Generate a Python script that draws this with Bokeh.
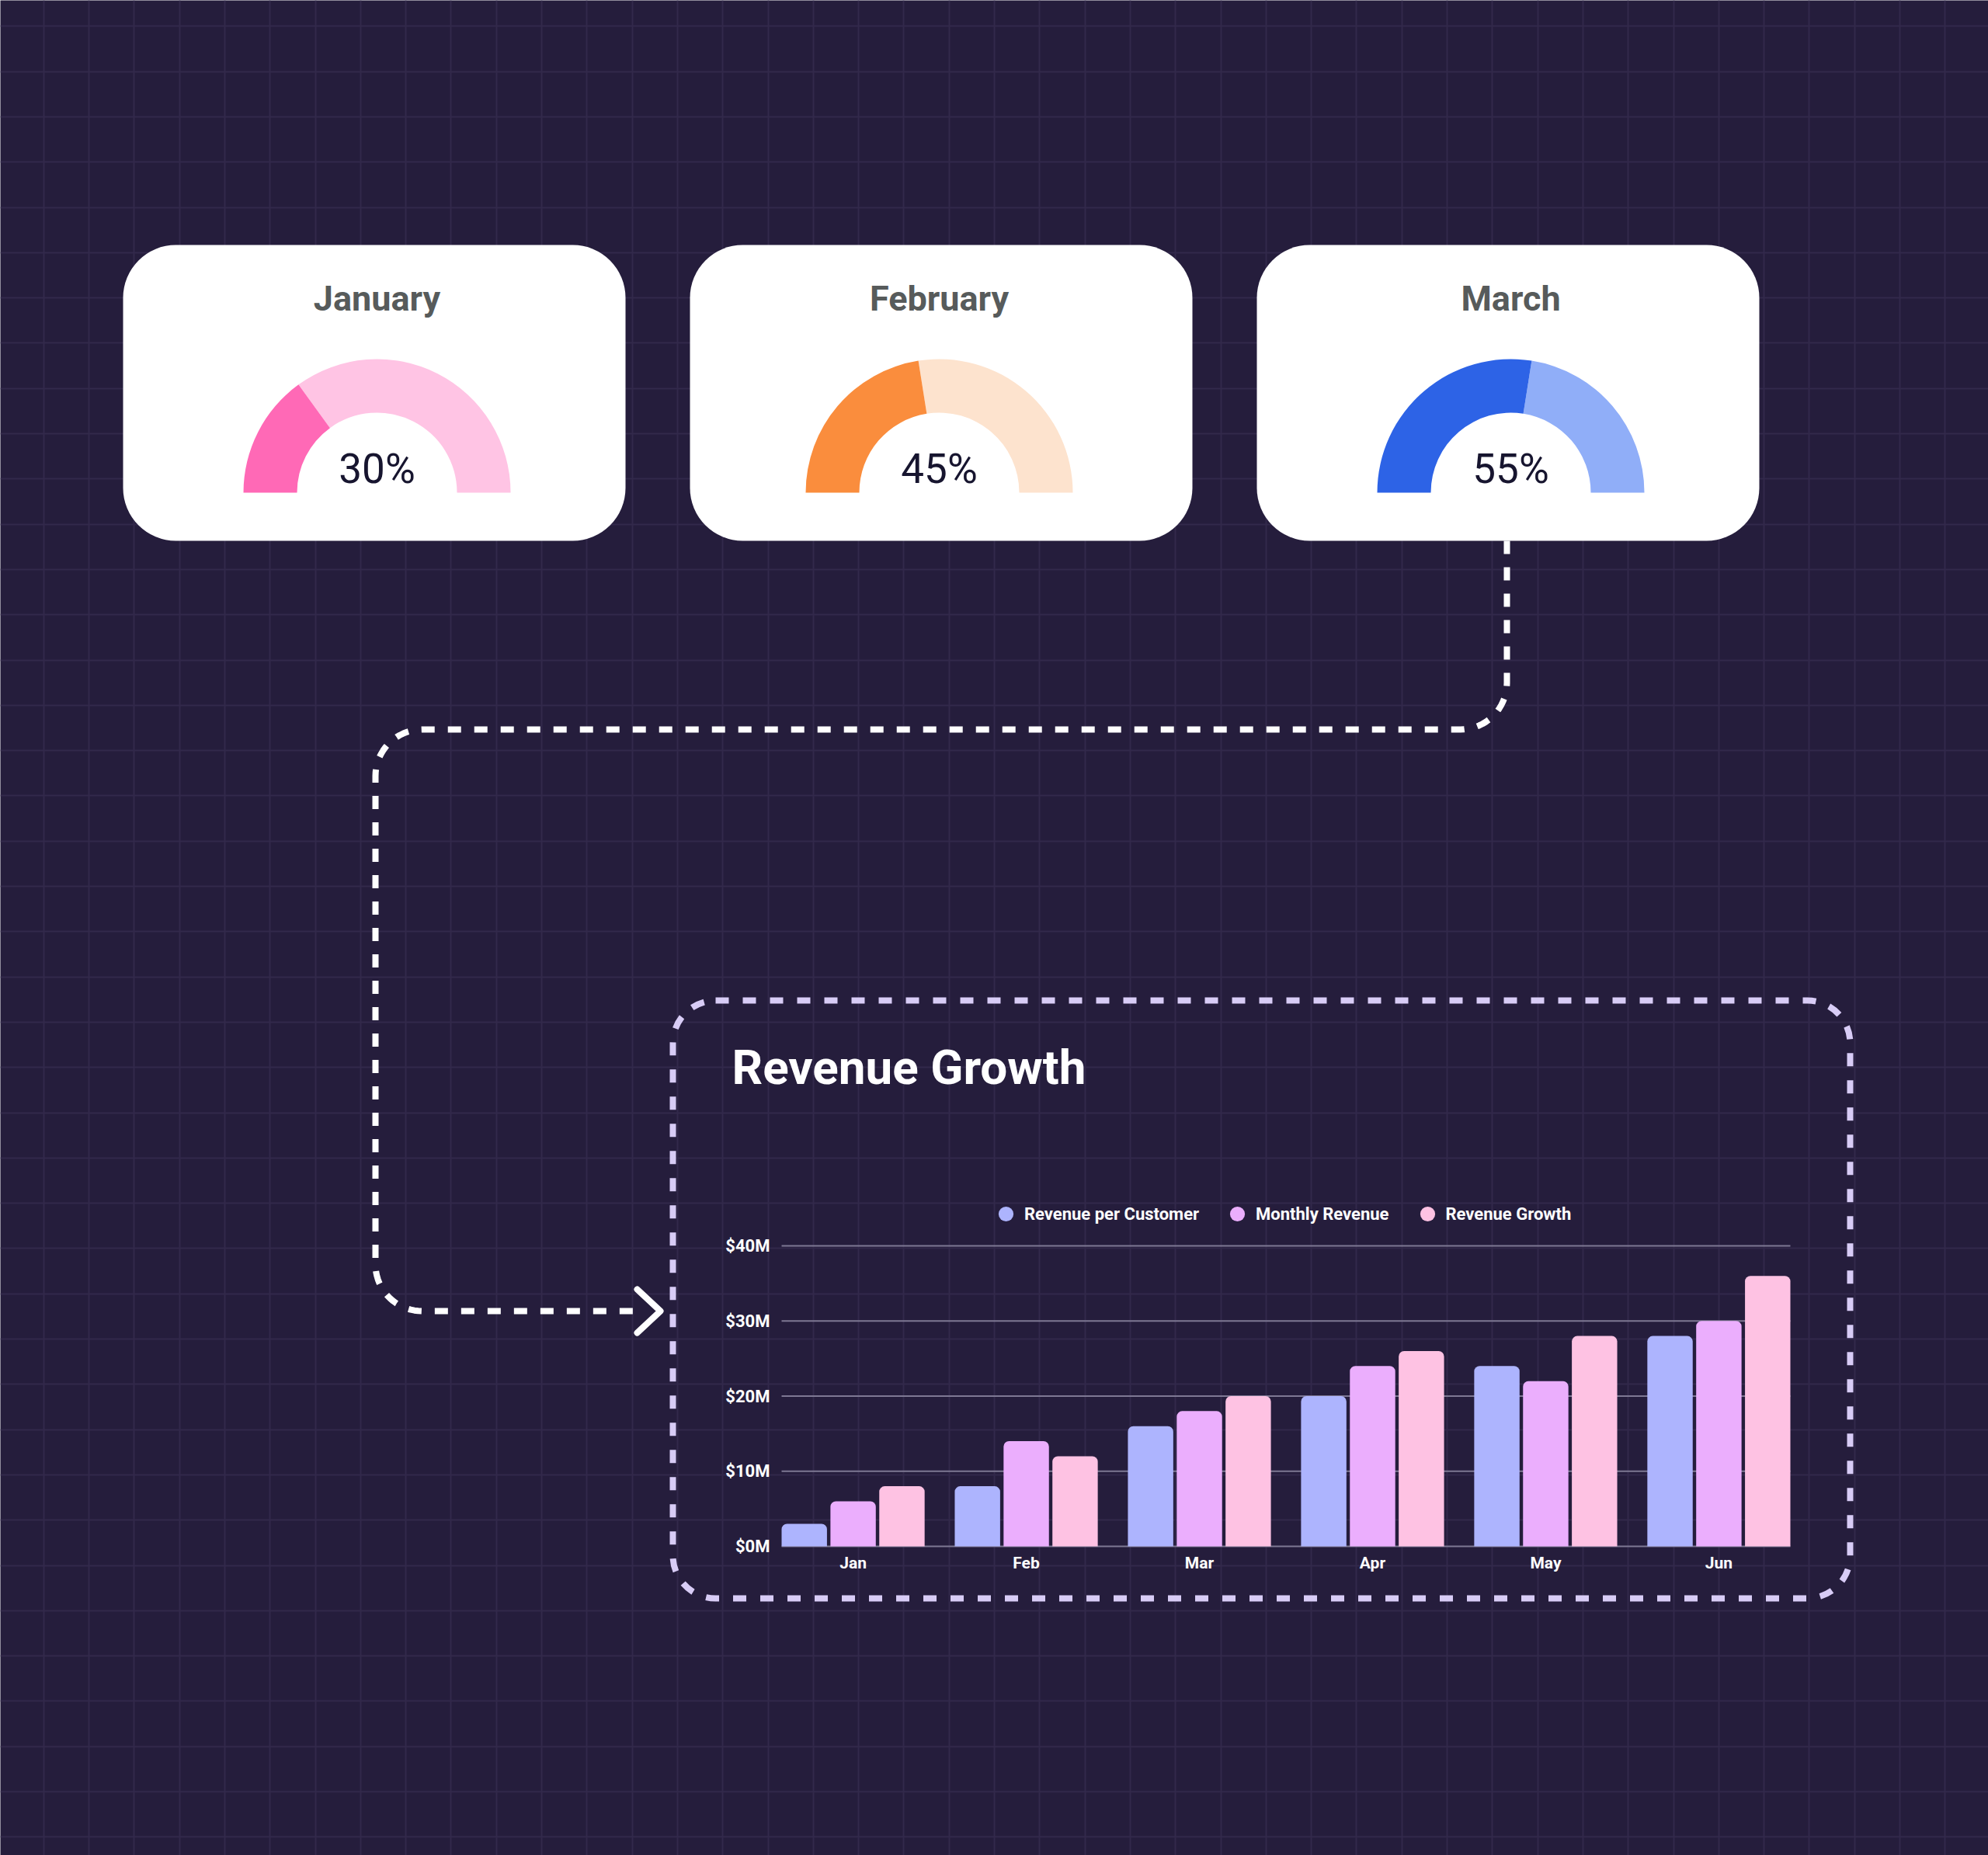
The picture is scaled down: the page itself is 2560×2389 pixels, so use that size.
import math
import numpy as np
from bokeh.plotting import figure
from bokeh.models import (Range1d, LinearAxis, FixedTicker, PrintfTickFormatter,
                          Legend, LegendItem, Grid)
from bokeh.core.properties import value
from bokeh.embed import file_html
from bokeh.resources import INLINE

# ---------------- data ----------------
gauge_months = ["January", "February", "March"]
gauge_pct = [30, 45, 55]
gauge_dark = ["#FF69B6", "#FA8D3D", "#2D63E6"]
gauge_light = ["#FFC4E4", "#FDE3CE", "#90AEF8"]

months = ["Jan", "Feb", "Mar", "Apr", "May", "Jun"]
rev_per_customer = [3, 8, 16, 20, 24, 28]
monthly_revenue = [6, 14, 18, 24, 22, 30]
revenue_growth = [8, 12, 20, 26, 28, 36]
y_ticks = [0, 10, 20, 30, 40]
series_names = ["Revenue per Customer", "Monthly Revenue", "Revenue Growth"]
series_colors = ["#ADB4FE", "#EBAEFD", "#FEC2E3"]
series_values = [rev_per_customer, monthly_revenue, revenue_growth]

# ---------------- layout ----------------
W, H, M = 2560, 2389, 0
BG = "#251D3C"
FONT = value("Roboto")

p = figure(width=W, height=H, x_range=Range1d(M, M + W), y_range=Range1d(-(M + H), -M),
           x_axis_type=None, y_axis_type=None, toolbar_location=None,
           output_backend="svg", min_border=0, background_fill_color=BG,
           border_fill_color=BG, outline_line_color=None)

# background grid
vx = list(np.arange(55.7, M + W, 58.3))
hy = list(-np.arange(33.3, M + H, 58.3))
p.add_layout(Grid(dimension=0, ticker=FixedTicker(ticks=vx), grid_line_color="#32294B", grid_line_width=2))
p.add_layout(Grid(dimension=1, ticker=FixedTicker(ticks=hy), grid_line_color="#32294B", grid_line_width=2))

# cards
card_left = [158, 888, 1618]
card_w = 647
gauge_cx = [485, 1209, 1945]
p.quad(left=card_left, right=[l + card_w for l in card_left], top=-315, bottom=-696,
       fill_color="#FFFFFF", line_color=None, border_radius=68)
p.text(x=gauge_cx, y=-384, text=gauge_months, text_font=FONT, text_font_style="bold",
       text_font_size="45px", text_color="#575B5B", text_align="center",
       text_baseline="middle")

split = [math.pi * (1 - v / 100) for v in gauge_pct]
p.annular_wedge(x=gauge_cx, y=-634, inner_radius=103, outer_radius=172,
                start_angle=0, end_angle=split, fill_color=gauge_light, line_color=None)
p.annular_wedge(x=gauge_cx, y=-634, inner_radius=103, outer_radius=172,
                start_angle=split, end_angle=math.pi, fill_color=gauge_dark, line_color=None)
p.text(x=gauge_cx, y=-603.5, text=[f"{v}%" for v in gauge_pct], text_font=FONT,
       text_font_size="53px", text_color="#17152F", text_align="center",
       text_baseline="middle")

# connector
def arc(cx, cy, r, a0, a1, n=20):
    t = np.linspace(math.radians(a0), math.radians(a1), n)
    return list(cx + r * np.cos(t)), list(cy + r * np.sin(t))

R = 60
cxs, cys = [1940], [696]
for (ax, ay, a0, a1) in [(1880, 879, 0, 90), (543, 999, 270, 180), (543, 1628, 180, 90)]:
    xs_, ys_ = arc(ax, ay, R, a0, a1)
    cxs += xs_
    cys += ys_
cxs.append(823)
cys.append(1688)
p.line(cxs, [-y for y in cys], line_color="white", line_width=8, line_dash="17 17")
p.line([820, 850, 820], [-1660, -1688, -1716], line_color="white", line_width=8,
       line_cap="round", line_join="round")

# chart box
p.quad(left=866, right=2382, top=-1288, bottom=-2058, fill_color=None,
       line_color="#D8CCF6", line_width=8, line_dash="17 18", border_radius=55)
p.text(x=[942], y=[-1374], text=["Revenue Growth"], text_font=FONT, text_font_style="bold",
       text_font_size="62px", text_color="white", text_baseline="middle")

# ---------------- bar chart (extra ranges) ----------------
offsets = [-0.282, 0.0, 0.282]
bw = 0.262
x_lo, x_hi = offsets[0] - bw / 2, len(months) - 1 + offsets[-1] + bw / 2
PX_L, PX_R = 1006, 2305
ux = (PX_R - PX_L) / (x_hi - x_lo)
Y0, uy = 1991, 9.675
p.extra_x_ranges = {"bx": Range1d(x_lo + (M - PX_L) / ux, x_lo + (M + W - PX_L) / ux)}
p.extra_y_ranges = {"by": Range1d((Y0 - (M + H)) / uy, (Y0 - M) / uy)}

p.segment(x0=x_lo, x1=x_hi, y0=y_ticks, y1=y_ticks, x_range_name="bx", y_range_name="by",
          line_color="#7E7893", line_width=2)

legend_items = []
for k, (name, col, vals) in enumerate(zip(series_names, series_colors, series_values)):
    xs = [i + offsets[k] for i in range(len(months))]
    p.vbar(x=xs, top=vals, bottom=0, width=bw, fill_color=col, line_color=None,
           x_range_name="bx", y_range_name="by", border_radius=(7, 7, 0, 0))
    r = p.scatter(x=xs, y=vals, size=0, marker="circle", fill_color=col, line_color=None,
                  x_range_name="bx", y_range_name="by")
    legend_items.append(LegendItem(label=name, renderers=[r]))

legend = Legend(items=legend_items, orientation="horizontal", location=(1271, 802),
                glyph_width=48, glyph_height=48, label_standoff=0, spacing=25, padding=0,
                margin=0, border_line_color=None, background_fill_alpha=0,
                label_text_color="white", label_text_font="Roboto", label_text_font_style="bold",
                label_text_font_size="22px")
p.add_layout(legend)

yax = LinearAxis(x_range_name="bx", y_range_name="by", fixed_location=x_lo,
                 ticker=FixedTicker(ticks=y_ticks), formatter=PrintfTickFormatter(format="$%dM"),
                 axis_line_color=None, major_tick_line_color=None, minor_tick_line_color=None,
                 major_tick_out=0, major_tick_in=0, major_label_standoff=15,
                 major_label_text_color="white", major_label_text_font="Roboto",
                 major_label_text_font_style="bold", major_label_text_font_size="22px")
p.add_layout(yax, "left")

xax = LinearAxis(x_range_name="bx", y_range_name="by", fixed_location=0,
                 ticker=FixedTicker(ticks=list(range(len(months)))),
                 major_label_overrides={i: m for i, m in enumerate(months)},
                 axis_line_color=None, major_tick_line_color=None, minor_tick_line_color=None,
                 major_tick_out=0, major_tick_in=0, major_label_standoff=9,
                 major_label_text_color="white", major_label_text_font="Roboto",
                 major_label_text_font_style="bold", major_label_text_font_size="21px")
p.add_layout(xax, "below")

open("out.html", "w").write(file_html(p, INLINE))
